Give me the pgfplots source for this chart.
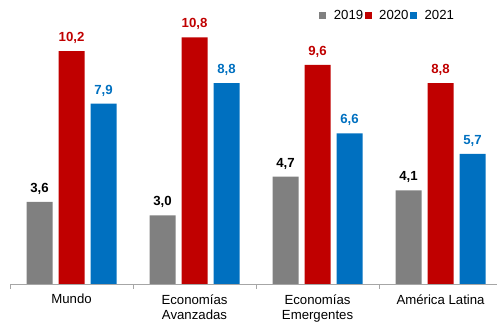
\documentclass[border=0pt]{standalone}
\usepackage{pgfplots}
\pgfplotsset{compat=1.18}
\usepackage{fontspec}
\setmainfont{Liberation Sans}
\definecolor{c19}{HTML}{808080}
\definecolor{c20}{HTML}{C00000}
\definecolor{c21}{HTML}{0070C0}
\definecolor{axgray}{HTML}{A6A6A6}
\begin{document}
\begin{tikzpicture}
\useasboundingbox (0,0) rectangle (497pt,323pt);
\begin{axis}[
  at={(10pt,39pt)}, anchor=south west,
  scale only axis, width=487.5pt, height=274pt,
  xmin=-0.5, xmax=3.463, ymin=0, ymax=12,
  ybar=6pt, bar width=26pt,
  axis y line=none, axis x line*=bottom,
  x axis line style={draw=axgray},
  xtick={0,1,2,3},
  xticklabels={Mundo, Economías\\Avanzadas, Economías\\Emergentes, América Latina},
  xticklabel style={align=center, font=\fontsize{13.2}{15.5}\selectfont, text=black, yshift=-2.5pt},
  major x tick style={draw=none},
  minor xtick={-0.5,0.5,1.5,2.5,3.5},
  minor tick length=5pt, tick align=outside,
  minor x tick style={draw=axgray},
  nodes near coords,
  nodes near coords style={font=\bfseries\fontsize{13.2}{15}\selectfont, yshift=4pt},
  /pgf/number format/assume math mode=true,
  /pgf/number format/use comma,
  /pgf/number format/fixed,
  /pgf/number format/fixed zerofill,
  /pgf/number format/precision=1,
  legend columns=3,
  legend style={at={(0.628,0.98)}, anchor=west, draw=none, fill=none,
    font=\fontsize{13.2}{15}\selectfont,
    nodes={inner sep=1.5pt},
    /tikz/every even column/.append style={column sep=0pt},
    /tikz/every odd column/.append style={column sep=6pt}},
  legend image code/.code={\fill[#1] (0pt,-3.5pt) rectangle (7pt,3.5pt);},
]
\addplot[fill=c19, draw=none, nodes near coords style={text=black}]
  coordinates {(0,3.6) (1,3.0) (2,4.7) (3,4.1)};
\addplot[fill=c20, draw=none, nodes near coords style={text=c20}]
  coordinates {(0,10.2) (1,10.8) (2,9.6) (3,8.8)};
\addplot[fill=c21, draw=none, nodes near coords style={text=c21}]
  coordinates {(0,7.9) (1,8.8) (2,6.6) (3,5.7)};
\legend{2019,2020,2021}
\end{axis}
\end{tikzpicture}
\end{document}
